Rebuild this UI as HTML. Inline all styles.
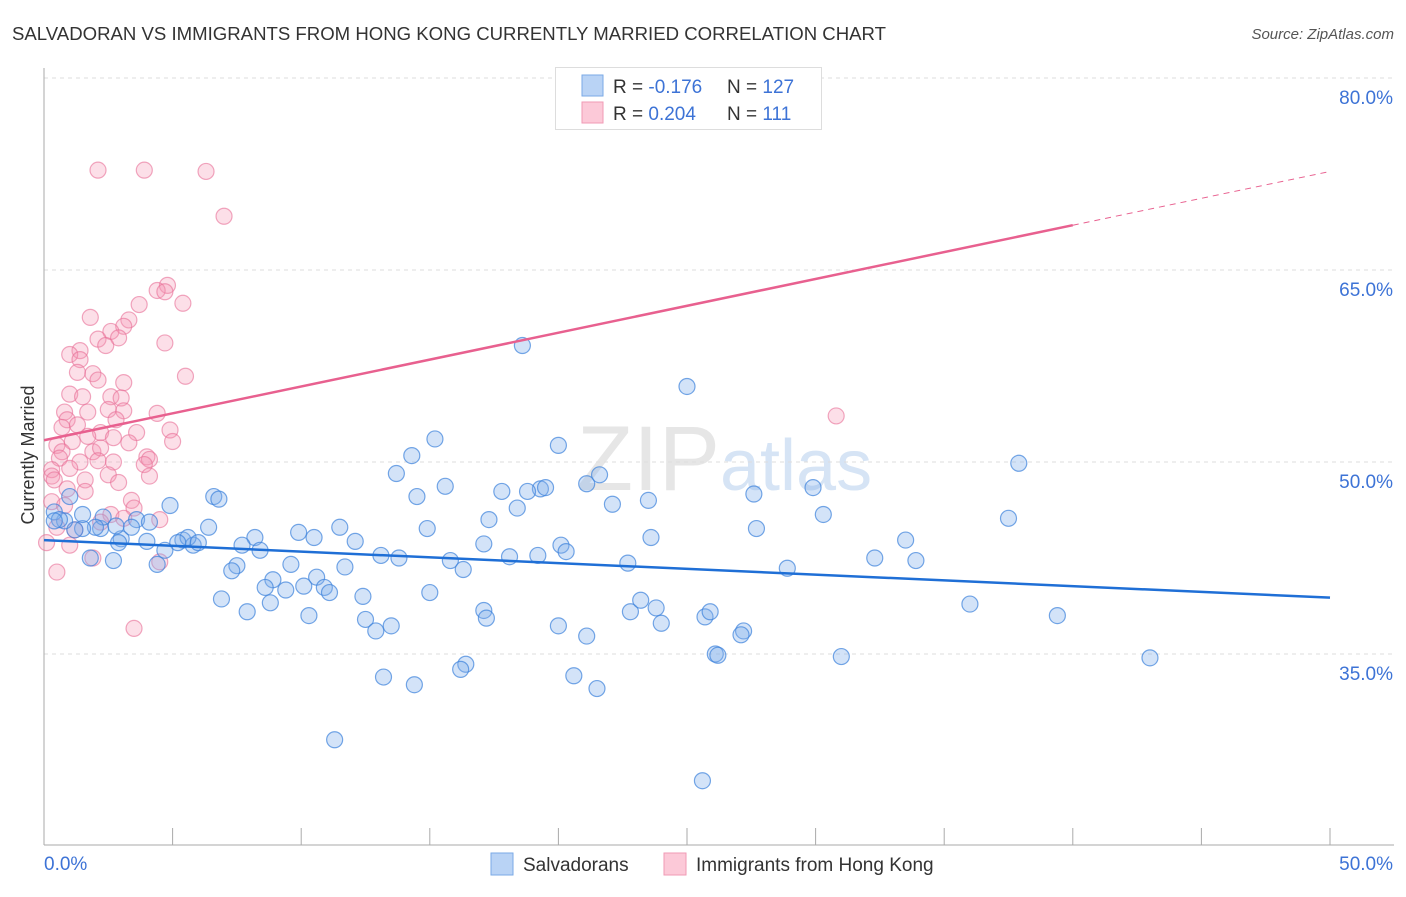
<!DOCTYPE html>
<html><head><meta charset="utf-8"><style>
body{margin:0;background:#fff;font-family:"Liberation Sans",sans-serif;}
svg text{font-family:"Liberation Sans",sans-serif;}
</style></head><body>
<svg id="chart" width="1406" height="892" xmlns="http://www.w3.org/2000/svg">
<text x="12" y="40" font-size="18.6" fill="#333">SALVADORAN VS IMMIGRANTS FROM HONG KONG CURRENTLY MARRIED CORRELATION CHART</text>
<text x="1394" y="39" font-size="15" fill="#555" font-style="italic" text-anchor="end">Source: ZipAtlas.com</text>
<text x="720" y="490" font-size="92" fill="#e6e6e6" text-anchor="end" font-family="Liberation Serif">ZIP</text>
<text x="720" y="490" font-size="72" fill="#d6e4f5">atlas</text>
<g id="grid"></g>
<g id="axes"></g>
<g id="pts"></g>
<g id="lines"></g>
<text x="34" y="455" font-size="18" fill="#333" text-anchor="middle" transform="rotate(-90 34 455)">Currently Married</text>
<g>
<rect x="555.5" y="67.5" width="266" height="62" fill="#fff" stroke="#ddd"/>
<rect x="582" y="75" width="21" height="21" fill="#b9d3f5" stroke="#7aa9e6"/>
<rect x="582" y="102" width="21" height="21" fill="#fcc9d8" stroke="#f09ab5"/>
<text x="613" y="93" font-size="19" fill="#333">R = <tspan fill="#3d73d6">-0.176</tspan></text>
<text x="727" y="93" font-size="19" fill="#333">N = <tspan fill="#3d73d6">127</tspan></text>
<text x="613" y="120" font-size="19" fill="#333">R = <tspan fill="#3d73d6">0.204</tspan></text>
<text x="727" y="120" font-size="19" fill="#333">N = <tspan fill="#3d73d6"> 111</tspan></text>
</g>
<g>
<rect x="491" y="853" width="22" height="22" fill="#b9d3f5" stroke="#7aa9e6"/>
<text x="523" y="871" font-size="19" fill="#333">Salvadorans</text>
<rect x="664" y="853" width="22" height="22" fill="#fcc9d8" stroke="#f09ab5"/>
<text x="696" y="871" font-size="19" fill="#333">Immigrants from Hong Kong</text>
</g>
</svg>
<script>
const yTicks=[80,65,50,35];
const xTickLabels=["0.0%","50.0%"];
const blueX=[18.6,25.0,15.2,14.3,20.0,37.9,13.7,15.6,14.5,21.1,21.6,19.3,19.5,18.8,17.8,29.9,27.6,23.5,22.1,18.4,17.3,30.3,37.5,6.6,6.8,4.9,14.9,11.5,27.7,23.6,33.5,6.4,9.9,10.5,12.1,17.1,20.1,20.3,18.1,19.2,13.1,13.8,15.8,16.3,22.7,28.9,32.3,33.9,8.2,8.4,7.7,5.4,5.8,5.6,6.0,5.2,4.7,4.4,4.0,3.0,2.9,3.6,4.1,3.4,2.2,2.3,2.8,2.0,1.5,1.2,1.0,1.5,0.8,0.4,0.6,0.4,1.8,2.7,7.5,7.3,9.6,10.6,11.7,8.9,8.6,9.4,10.1,10.9,11.1,6.9,8.8,12.4,15.0,7.9,10.3,17.1,17.2,12.5,12.9,13.5,20.0,21.1,22.8,23.2,23.8,24.0,25.7,25.9,27.2,27.1,26.1,26.2,31.0,36.0,39.4,43.0,16.4,16.2,13.2,14.4,20.6,21.5,11.3,25.6];
const blueY=[59.1,55.9,51.8,50.5,51.3,49.9,49.1,48.1,47.3,48.3,49.0,47.9,48.0,47.7,47.7,48.0,47.5,47.0,46.7,46.4,45.5,45.9,45.6,47.3,47.1,46.6,44.8,44.9,44.8,44.1,43.9,44.9,44.5,44.1,43.8,43.6,43.5,43.0,42.6,42.7,42.7,42.5,42.3,41.6,42.1,41.7,42.5,42.3,44.1,43.1,43.5,43.9,43.5,44.1,43.7,43.7,43.1,42.0,43.8,44.0,43.7,45.5,45.3,44.9,44.8,45.7,45.0,44.9,44.8,44.7,47.3,45.9,45.4,46.1,45.5,45.4,42.5,42.3,41.9,41.5,42.0,41.0,41.8,40.8,40.2,40.0,40.3,40.2,39.8,39.3,39.0,39.5,39.8,38.3,38.0,38.4,37.8,37.7,36.8,37.2,37.2,36.4,38.3,39.2,38.6,37.4,37.9,38.3,36.8,36.5,35.0,34.9,34.8,38.9,38.0,34.7,34.2,33.8,33.2,32.6,33.3,32.3,28.3,25.1];
const pinkX=[2.1,3.9,6.3,7.0,4.8,4.4,4.7,5.4,3.7,3.3,1.8,3.1,2.6,2.9,2.1,2.4,4.7,1.4,1.0,1.4,5.5,1.3,1.9,2.1,3.1,1.0,1.5,2.6,3.0,2.5,3.1,0.8,1.7,4.4,30.8,0.9,2.8,1.3,0.7,2.2,3.6,4.9,1.7,2.7,1.1,0.5,3.3,5.0,0.7,1.9,2.2,4.0,4.1,0.6,1.4,2.1,2.7,3.9,1.0,0.3,0.3,0.4,1.6,2.5,2.9,4.1,0.9,1.6,0.3,3.4,3.5,2.6,3.1,0.5,4.5,1.2,1.0,0.1,1.9,4.5,0.5,3.5,2.2,0.8];
const pinkY=[72.8,72.8,72.7,69.2,63.8,63.4,63.3,62.4,62.3,61.1,61.3,60.6,60.2,59.7,59.6,59.1,59.3,58.7,58.4,58.0,56.7,57.0,56.9,56.4,56.2,55.3,55.1,55.1,55.0,54.1,54.0,53.9,53.9,53.8,53.6,53.3,53.3,52.9,52.7,52.3,52.3,52.5,52.0,51.9,51.6,51.3,51.5,51.6,50.8,50.8,51.1,50.4,50.2,50.3,50.0,50.1,50.0,49.8,49.5,49.4,48.9,48.6,48.6,49.0,48.4,48.9,47.9,47.7,46.9,47.0,46.4,45.9,45.6,44.9,45.5,44.7,43.5,43.7,42.5,42.2,41.4,37.0,45.3,46.6];
const blueTrend=[43.9,39.4];      // y at x=0 and x=50
const pinkTrend=[51.7,72.7];      // y at x=0 and x=50
const pinkSolidEnd=40.0;
const NS="http://www.w3.org/2000/svg";
const X=v=>44+v/50*1286;
const Y=v=>462-(v-50)*12.8;
function mk(p,t,a){const e=document.createElementNS(NS,t);for(const k in a)e.setAttribute(k,a[k]);p.appendChild(e);return e;}
const grid=document.getElementById('grid'),axes=document.getElementById('axes'),pts=document.getElementById('pts'),lines=document.getElementById('lines');
yTicks.forEach(v=>{
 const l=mk(grid,'line',{x1:44,x2:1394,y1:Y(v),y2:Y(v),stroke:'#ddd','stroke-dasharray':'4,4'});
 
 
 const t=mk(grid,'text',{x:1393,y:Y(v)+26,'font-size':19,fill:'#3d73d6','text-anchor':'end'});
 t.textContent=v.toFixed(1)+'%';
 
 
});
mk(axes,'line',{x1:44,x2:44,y1:68,y2:845,stroke:'#aaa'});
mk(axes,'line',{x1:44,x2:1394,y1:845,y2:845,stroke:'#aaa'});
for(let i=0;i<=10;i++){const l=mk(axes,'line',{x1:X(i*5),x2:X(i*5),y1:828,y2:845,stroke:'#aaa'});
 
 }
[[44,'start',0],[1393,'end',1]].forEach(([x,a,i])=>{const t=mk(axes,'text',{x:x,y:870,'font-size':19,fill:'#3d73d6','text-anchor':a});t.textContent=xTickLabels[i];
 
 });
pinkX.forEach((x,i)=>{const c=mk(pts,'circle',{cx:X(x),cy:Y(pinkY[i]),r:8,fill:'rgba(245,150,180,0.3)',stroke:'rgba(232,110,150,0.6)','stroke-width':1.2});
 
 });
blueX.forEach((x,i)=>{const c=mk(pts,'circle',{cx:X(x),cy:Y(blueY[i]),r:8,fill:'rgba(130,175,235,0.35)',stroke:'rgba(60,130,220,0.7)','stroke-width':1.2});
 
 });
const bl=mk(lines,'line',{x1:X(0),y1:Y(blueTrend[0]),x2:X(50),y2:Y(blueTrend[1]),stroke:'#1f6fd6','stroke-width':2.5});


const py=x=>pinkTrend[0]+(pinkTrend[1]-pinkTrend[0])*x/50;
const pl=mk(lines,'line',{x1:X(0),y1:Y(py(0)),x2:X(pinkSolidEnd),y2:Y(py(pinkSolidEnd)),stroke:'#e8608f','stroke-width':2.5});


const pd=mk(lines,'line',{x1:X(pinkSolidEnd),y1:Y(py(pinkSolidEnd)),x2:X(50),y2:Y(py(50)),stroke:'#e8608f','stroke-width':1,'stroke-dasharray':'6,5'});


</script>
</body></html>
